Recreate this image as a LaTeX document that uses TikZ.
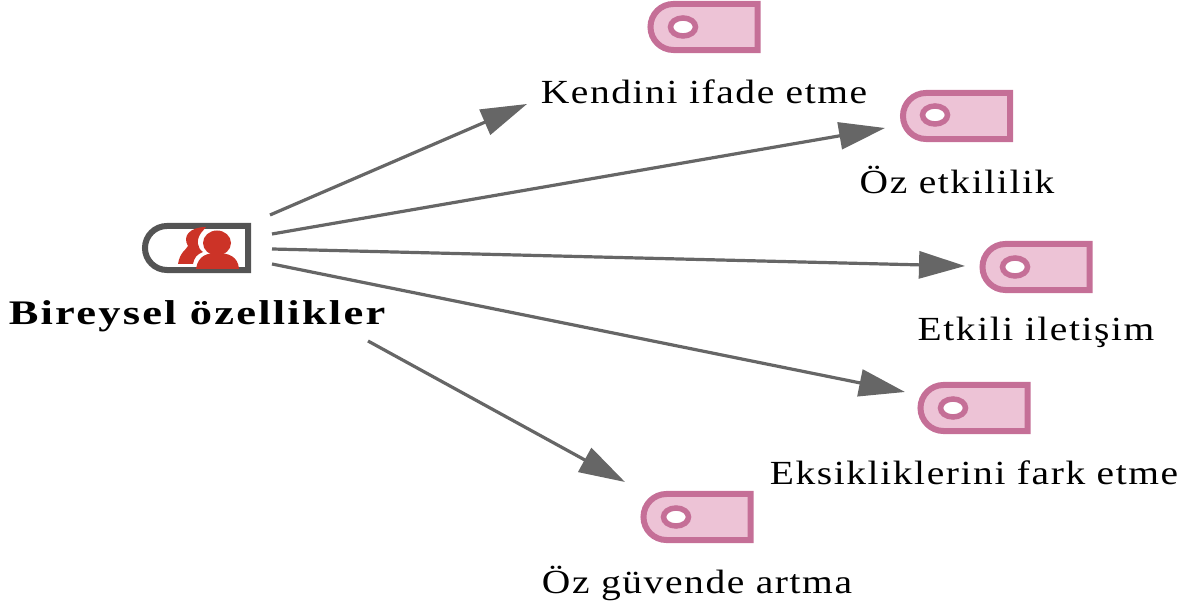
\documentclass[tikz,border=0pt]{standalone}
\usepackage{fontspec}
\setmainfont{Liberation Serif}
\usetikzlibrary{arrows.meta,shapes.misc,shapes.geometric}
\definecolor{tagline}{HTML}{C56F97}
\definecolor{tagfill}{HTML}{EDC3D6}
\definecolor{pfeil}{HTML}{666666}
\definecolor{kopf}{HTML}{CC3327}
\tikzset{
	etikett/.style={draw=tagline,fill=tagfill,line width=0.06cm,rounded rectangle,rounded rectangle right arc=none,minimum width=1.07cm,minimum height=0.46cm,inner sep=0pt},
	loch/.style={draw=tagline,fill=white,line width=0.055cm,ellipse,minimum width=0.25cm,minimum height=0.18cm,inner sep=0pt},
	beschriftung/.style={font=\fontsize{9.6}{11}\selectfont\addfontfeatures{LetterSpace=4},inner sep=0pt,xscale=1.17},
	pfeilstil/.style={draw=pfeil,line width=0.032cm,-{Triangle[length=0.46cm,width=0.27cm]}}
}
\begin{document}
\begin{tikzpicture}[x=0.01cm,y=-0.01cm]
	\useasboundingbox (0,0) rectangle (1192,604);
	
	%Bireysel
	\node[draw=black!67,fill=white,line width=0.06cm,rounded rectangle,rounded rectangle right arc=none,minimum width=1.03cm,minimum height=0.44cm,inner sep=0pt] (kisi) at (196.5,248) {};
	\fill[kopf] (217,243) ellipse (14 and 12.5);
	\fill[kopf] (196,269) .. controls (198,255) and (208,253) .. (217,253) .. controls (228,253) and (238,256) .. (239,269) -- cycle;
	\fill[kopf] (178,264) .. controls (180,252) and (186,250) .. (188,246) .. controls (182,236) and (190,227) .. (206,227) -- (201,233) .. controls (196,240) and (197,248) .. (203,252) .. controls (197,254) and (194,258) .. (193,264) -- cycle;
	\node[font=\bfseries\fontsize{9.8}{11}\selectfont\addfontfeatures{LetterSpace=5},inner sep=0pt,xscale=1.29] (bireysel) at (197,316) {Bireysel özellikler};
	
	%Etiketler
	\node[etikett] (ifade) at (704,27) {};
	\node[loch] (ifadeloch) at (683,27) {};
	\node[beschriftung] (ifadetext) at (704,92) {Kendini ifade etme};
	
	\node[etikett] (etkililik) at (956.5,116) {};
	\node[loch] (etkililikloch) at (935,115) {};
	\node[beschriftung] (etkililiktext) at (957,180) {Öz etkililik};
	
	\node[etikett] (iletisim) at (1036,267) {};
	\node[loch] (iletisimloch) at (1015,267) {};
	\node[beschriftung] (iletisimtext) at (1036,332) {Etkili iletişim};
	
	\node[etikett] (eksik) at (974,408) {};
	\node[loch] (eksikloch) at (953,408) {};
	\node[beschriftung] (eksiktext) at (974,473) {Eksikliklerini fark etme};
	
	\node[etikett] (guven) at (697,517) {};
	\node[loch] (guvenloch) at (676,517) {};
	\node[beschriftung] (guventext) at (697,583) {Öz güvende artma};
	
	%Pfeile
	\coordinate (a1) at (270,215);
	\coordinate (a2) at (272,234);
	\coordinate (a3) at (272,249);
	\coordinate (a4) at (272,264);
	\coordinate (a5) at (368,341);
	\coordinate (e1) at (527,104);
	\coordinate (e2) at (885,128);
	\coordinate (e3) at (965,266);
	\coordinate (e4) at (905,392);
	\coordinate (e5) at (625,482);
	\draw[pfeilstil] (a1) -- (e1);
	\draw[pfeilstil] (a2) -- (e2);
	\draw[pfeilstil] (a3) -- (e3);
	\draw[pfeilstil] (a4) -- (e4);
	\draw[pfeilstil] (a5) -- (e5);
	
\end{tikzpicture}
\end{document}
